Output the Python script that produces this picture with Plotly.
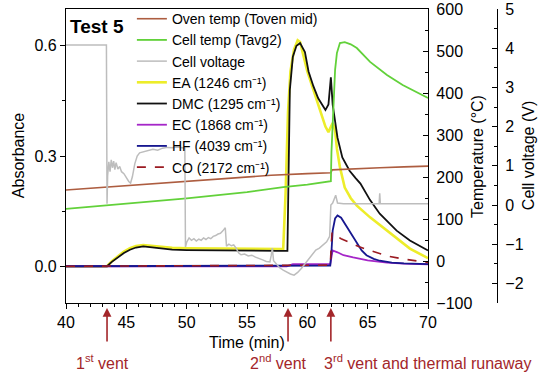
import plotly.graph_objects as go

# ---------------- data ----------------
oven_t = [40, 45, 50, 55, 57, 60, 61.95, 62.05, 64, 66, 68, 70]
oven_T = [169, 179, 190, 200, 204, 208, 210, 217, 220, 222, 224, 226]

cell_t = [40, 45, 50, 55, 58, 60, 61.5, 61.95, 62.0, 62.1, 62.2, 62.3, 62.45, 62.7,
          63.1, 63.6, 64.1, 65.2, 66.6, 67.9, 70]
cell_T = [124, 136, 149, 164, 176, 182, 187, 190, 260, 336, 410, 455, 495, 519,
          521, 516, 507, 474, 443, 419, 388]

volt_t = [40.0, 43.35, 43.4, 43.45, 43.55, 43.65, 43.75, 43.85, 43.95, 44.05, 44.15,
          44.3, 44.45, 44.6, 44.8, 45.0, 45.2, 45.35, 45.5, 45.7, 45.9, 46.1, 46.4,
          46.8, 47.2, 47.6, 48.0, 48.4, 48.8, 49.2, 49.6, 49.85, 49.9, 50.0, 50.2,
          50.4, 50.6, 50.8, 51.0, 51.2, 51.4, 51.6, 51.8, 52.0, 52.2, 52.4, 52.6,
          52.8, 53.0, 53.2, 53.3, 53.5, 53.7, 53.9, 54.1, 54.3, 54.5, 54.8, 55.1,
          55.4, 55.7, 56.0, 56.3, 56.6, 56.9, 57.0, 57.1, 57.2, 57.4, 57.7, 58.0,
          58.3, 58.6, 58.9, 59.2, 59.5, 59.8, 60.1, 60.4, 60.7, 61.0, 61.3, 61.6,
          61.85, 61.95, 62.1, 62.25, 62.35, 62.5, 63.0, 64.0, 65.0, 65.95, 66.0,
          66.05, 67.0, 68.0, 69.0, 70.0]
volt_V = [4.08, 4.08, 0.03, 0.75, 1.1, 0.85, 1.15, 0.95, 1.12, 0.9, 1.08,
          0.92, 0.98, 0.85, 0.8, 0.68, 0.6, 0.56, 0.72, 1.05, 1.25, 1.33, 1.36,
          1.38, 1.42, 1.40, 1.45, 1.47, 1.46, 1.48, 1.46, 1.45, -1.07, -0.95, -0.84,
          -0.9, -0.86, -0.92, -0.87, -0.9, -0.84, -0.88, -0.83, -0.86, -0.8, -0.78, -0.74,
          -0.72, -0.66, -0.58, -1.05, -1.0, -1.04, -1.02, -1.1, -1.22, -1.27, -1.25, -1.3,
          -1.28, -1.33, -1.36, -1.4, -1.44, -1.45, -1.3, -1.1, -1.42, -1.5, -1.6, -1.66,
          -1.72, -1.76, -1.79, -1.72, -1.62, -1.5, -1.38, -1.24, -1.15, -1.1, -1.02, -0.94,
          -0.8, 0.0, 0.05, 0.18, 0.25, 0.05, 0.03, 0.03, 0.03, 0.03, 0.3,
          0.03, 0.03, 0.03, 0.03, 0.03]

ea_t = [40, 43.4, 43.8, 44.3, 44.8, 45.3, 45.8, 46.4, 47.0, 47.8, 48.8, 50, 52, 54, 56,
        57.5, 58.0, 58.2, 58.4, 58.6, 58.9, 59.2, 59.4, 59.7, 60.0, 60.4, 60.8, 61.2,
        61.5, 61.75, 61.95, 62.1, 62.3, 62.45, 62.7, 63.1, 63.6, 64.1, 65.2, 66.6, 68.5, 70]
ea_A = [0, 0, 0.014, 0.028, 0.040, 0.049, 0.055, 0.058, 0.056, 0.052, 0.050, 0.049, 0.048,
        0.048, 0.047, 0.047, 0.047, 0.2, 0.42, 0.53, 0.59, 0.615, 0.61, 0.57, 0.53, 0.49,
        0.45, 0.41, 0.38, 0.365, 0.38, 0.39, 0.37, 0.32, 0.27, 0.214, 0.185, 0.165, 0.133,
        0.097, 0.048, 0.022]

dmc_t = [40, 43.4, 43.8, 44.3, 44.8, 45.3, 45.8, 46.4, 47.0, 47.8, 48.8, 50, 52, 54, 56,
         57.5, 58.35, 58.45, 58.55, 58.8, 59.1, 59.4, 59.8, 60.1, 60.5, 60.9, 61.5, 61.75,
         61.95, 62.1, 62.3, 62.5, 62.9, 63.5, 64.0, 64.4, 65.2, 66.0, 67.4, 68.5, 70]
dmc_A = [0, 0, 0.012, 0.025, 0.036, 0.045, 0.051, 0.054, 0.052, 0.048, 0.045, 0.044, 0.043,
         0.043, 0.042, 0.042, 0.042, 0.25, 0.48, 0.57, 0.6, 0.607, 0.583, 0.53, 0.49, 0.457,
         0.425, 0.44, 0.514, 0.44, 0.39, 0.35, 0.296, 0.26, 0.24, 0.225, 0.18, 0.143, 0.097,
         0.07, 0.043]

ec_t = [40, 58.3, 58.8, 61.9, 62.0, 62.1, 62.5, 63.0, 63.8, 65, 66.6, 68, 70]
ec_A = [0, 0, 0.006, 0.006, 0.025, 0.043, 0.038, 0.030, 0.024, 0.016, 0.010, 0.007, 0.005]

hf_t = [40, 61.9, 62.0, 62.1, 62.3, 62.5, 62.8, 63.3, 63.7, 64.1, 64.5, 64.9, 65.5, 66,
        67, 68, 70]
hf_A = [0, 0.002, 0.04, 0.097, 0.13, 0.138, 0.132, 0.106, 0.083, 0.061, 0.043, 0.030,
        0.020, 0.015, 0.010, 0.008, 0.006]

co_t = [40, 61.9, 62.0, 62.05, 62.3, 62.8, 63.5, 64.3, 65.2, 66.6, 67.9, 70]
co_A = [0, 0.003, 0.07, 0.092, 0.085, 0.075, 0.065, 0.053, 0.043, 0.028, 0.020, 0.010]

vent_times = [43.4, 58.4, 61.95]
vent_labels = ["1<sup>st</sup> vent", "2<sup>nd</sup> vent",
               "3<sup>rd</sup> vent and thermal runaway"]
vent_label_x = [43.0, 57.65, 61.2]
vent_label_anchor = ["center", "center", "left"]

FONT = "Liberation Sans, Arial, sans-serif"
RED = "#a3262a"

fig = go.Figure()
fig.add_trace(go.Scatter(x=oven_t, y=oven_T, name="Oven temp (Toven mid)", yaxis="y2",
                         mode="lines", line=dict(color="#ad5d40", width=1.6)))
fig.add_trace(go.Scatter(x=cell_t, y=cell_T, name="Cell temp (Tavg2)", yaxis="y2",
                         mode="lines", line=dict(color="#62d13a", width=1.8)))
fig.add_trace(go.Scatter(x=volt_t, y=volt_V, name="Cell voltage", yaxis="y3",
                         mode="lines", line=dict(color="#bdbdbd", width=1.5)))
fig.add_trace(go.Scatter(x=ea_t, y=ea_A, name="EA (1246 cm⁻¹)", yaxis="y",
                         mode="lines", line=dict(color="#eded2a", width=2.6)))
fig.add_trace(go.Scatter(x=dmc_t, y=dmc_A, name="DMC (1295 cm⁻¹)", yaxis="y",
                         mode="lines", line=dict(color="#111111", width=1.8)))
fig.add_trace(go.Scatter(x=ec_t, y=ec_A, name="EC (1868 cm⁻¹)", yaxis="y",
                         mode="lines", line=dict(color="#a526c8", width=1.8)))
fig.add_trace(go.Scatter(x=hf_t, y=hf_A, name="HF (4039 cm⁻¹)", yaxis="y",
                         mode="lines", line=dict(color="#17178f", width=1.8)))
fig.add_trace(go.Scatter(x=co_t, y=co_A, name="CO (2172 cm⁻¹)", yaxis="y",
                         mode="lines", line=dict(color="#9b1b22", width=1.6, dash="dash")))

XD = (428 - 66) / 474
annotations = [
    dict(text="<b>Test 5</b>", x=0.004, y=0.942, xref="paper", yref="paper",
         xanchor="left", yanchor="middle", showarrow=False,
         font=dict(size=19, color="black", family=FONT)),
    dict(text="Absorbance", x=-0.101, y=0.5, xref="paper", yref="paper", textangle=-90,
         xanchor="center", yanchor="middle", showarrow=False,
         font=dict(size=16, color="black", family=FONT)),
    dict(text="Temperature (°C)", x=0.867, y=0.5, xref="paper", yref="paper", textangle=-90,
         xanchor="center", yanchor="middle", showarrow=False,
         font=dict(size=16, color="black", family=FONT)),
    dict(text="Cell voltage (V)", x=0.975, y=0.5, xref="paper", yref="paper", textangle=-90,
         xanchor="center", yanchor="middle", showarrow=False,
         font=dict(size=16, color="black", family=FONT)),
    dict(text="Time (min)", x=55, y=-0.133, xref="x", yref="paper",
         xanchor="center", yanchor="middle", showarrow=False,
         font=dict(size=16, color="black", family=FONT)),
]
for t in vent_times:
    annotations.append(dict(text="", x=t, y=-0.017, xref="x", yref="paper",
                            showarrow=True, ax=0, ay=35, arrowhead=2, arrowsize=1.1,
                            arrowwidth=1.6, arrowcolor=RED))
for lab, lx, anc in zip(vent_labels, vent_label_x, vent_label_anchor):
    annotations.append(dict(text=lab, x=lx, y=-0.2, xref="x", yref="paper",
                            xanchor=anc, yanchor="middle", showarrow=False,
                            font=dict(size=16, color=RED, family=FONT)))

tickfont = dict(size=16, color="black", family=FONT)
fig.update_layout(
    width=550, height=379,
    margin=dict(l=66, r=10, t=9, b=76, autoexpand=False),
    paper_bgcolor="white", plot_bgcolor="white",
    font=dict(family=FONT, color="black"),
    showlegend=True,
    legend=dict(x=0.139, y=1.02, xanchor="left", yanchor="top",
                bgcolor="rgba(0,0,0,0)", font=dict(size=14, family=FONT, color="black"),
                tracegroupgap=0, itemwidth=30),
    xaxis=dict(domain=[0, XD], range=[40, 70], tick0=40, dtick=5, showgrid=False,
               zeroline=False, showline=True, linecolor="black", linewidth=1.3,
               mirror=True, ticks="outside", ticklen=5, tickcolor="black",
               tickfont=tickfont, automargin=False,
               minor=dict(dtick=1, ticks="outside", ticklen=3, tickcolor="black")),
    yaxis=dict(range=[-0.1, 0.7], tick0=0, dtick=0.3, tickformat=".1f", showgrid=False,
               zeroline=False, showline=True, linecolor="black", linewidth=1.3,
               ticks="outside", ticklen=5, tickcolor="black", tickfont=tickfont,
               automargin=False,
               minor=dict(dtick=0.15, ticks="outside", ticklen=3, tickcolor="black")),
    yaxis2=dict(range=[-100, 600], dtick=100, overlaying="y", side="right", anchor="x",
                showgrid=False, zeroline=False, showline=True, linecolor="black",
                linewidth=1.3, ticks="inside", ticklen=5, tickcolor="black",
                tickfont=tickfont, ticklabelstandoff=4, automargin=False,
                minor=dict(dtick=50, ticks="inside", ticklen=3, tickcolor="black")),
    yaxis3=dict(range=[-2.5, 5], dtick=1, overlaying="y", side="right", anchor="free",
                position=(497 - 66) / 474, showgrid=False, zeroline=False, showline=True,
                linecolor="black", linewidth=1.3, ticks="inside", ticklen=5,
                tickcolor="black", tickfont=tickfont, ticklabelstandoff=4,
                automargin=False,
                minor=dict(dtick=0.5, ticks="inside", ticklen=3, tickcolor="black")),
    annotations=annotations,
)

fig.write_html("out.html", config={"displayModeBar": False},
               post_script="document.body.style.margin='0';document.body.style.padding='0';")
